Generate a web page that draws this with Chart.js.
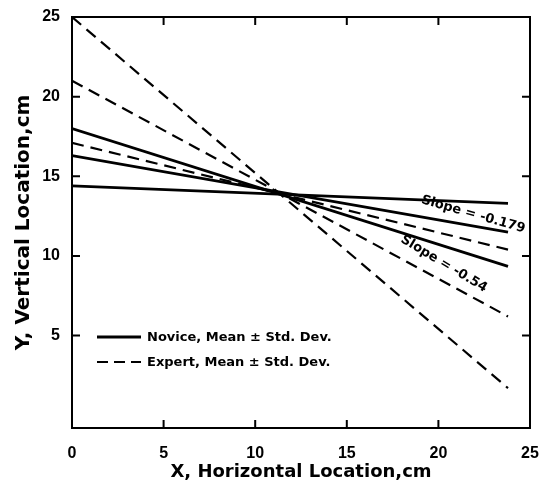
<!DOCTYPE html>
<html>
<head>
<meta charset="utf-8">
<script src="https://cdn.jsdelivr.net/npm/chart.js@4.4.1/dist/chart.umd.min.js"></script>
<style>
  html, body { margin: 0; padding: 0; background: #fff; }
  #wrap { width: 541px; height: 485px; }
</style>
</head>
<body>
<div id="wrap"><canvas id="chart" width="541" height="485"></canvas></div>
<script>
// line end points, x in cm
const xEnds = [0, 23.8];

// novice: mean +/- std dev
const noviceUpper = [18.0, 9.35];
const noviceMean = [16.3, 11.5];
const noviceLower = [14.4, 13.3];

// expert: mean +/- std dev
const expertUpper = [25.0, 1.7];
const expertMean = [21.0, 6.2];
const expertLower = [17.1, 10.4];

const xTicks = [0, 5, 10, 15, 20, 25];
const yTicks = [5, 10, 15, 20, 25];

// slope labels: [x, y, text, angle in degrees]
const slopeLabels = [
    [21.9, 12.6, 'Slope = -0.179', 16],
    [20.3, 9.5, 'Slope = -0.54', 31]
];

const legendItems = [
    ['Novice, Mean \u00b1 Std. Dev.', []],
    ['Expert, Mean \u00b1 Std. Dev.', [11, 6]]
];

const FONT = '"Liberation Sans", Arial, sans-serif';
const WIDE = '"DejaVu Sans", sans-serif';
const dash = [12, 7];

function toPoints(ys) {
    return ys.map((y, i) => ({ x: xEnds[i], y: y }));
}

function lineSet(label, ys, dashed) {
    return {
        label: label,
        data: toPoints(ys),
        borderColor: '#000',
        borderWidth: dashed ? 2.2 : 2.8,
        borderDash: dashed ? dash : [],
        pointRadius: 0,
        fill: false,
        tension: 0
    };
}

// frame with inward ticks, slope labels and legend
const framePlugin = {
    id: 'frame',
    afterDatasetsDraw(chart) {
        const ctx = chart.ctx;
        const a = chart.chartArea;
        const xs = chart.scales.x;
        const ys = chart.scales.y;
        const tl = 8;
        ctx.save();
        ctx.strokeStyle = '#000';
        ctx.lineWidth = 2;
        ctx.strokeRect(a.left, a.top, a.right - a.left, a.bottom - a.top);
        ctx.beginPath();
        xTicks.slice(1, -1).forEach(v => {
            const px = xs.getPixelForValue(v);
            ctx.moveTo(px, a.bottom); ctx.lineTo(px, a.bottom - tl);
            ctx.moveTo(px, a.top); ctx.lineTo(px, a.top + tl);
        });
        yTicks.slice(0, -1).forEach(v => {
            const py = ys.getPixelForValue(v);
            ctx.moveTo(a.left, py); ctx.lineTo(a.left + tl, py);
            ctx.moveTo(a.right, py); ctx.lineTo(a.right - tl, py);
        });
        ctx.stroke();

        // slope annotations
        ctx.fillStyle = '#000';
        ctx.font = 'bold 13px ' + WIDE;
        ctx.textAlign = 'center';
        ctx.textBaseline = 'middle';
        slopeLabels.forEach(s => {
            ctx.save();
            ctx.translate(xs.getPixelForValue(s[0]), ys.getPixelForValue(s[1]));
            ctx.rotate(s[3] * Math.PI / 180);
            ctx.fillText(s[2], 0, 0);
            ctx.restore();
        });

        // legend
        ctx.textAlign = 'left';
        legendItems.forEach((it, i) => {
            const y = a.top + 320 + i * 25;
            ctx.beginPath();
            ctx.setLineDash(it[1]);
            ctx.lineWidth = i === 0 ? 2.8 : 2.2;
            ctx.moveTo(a.left + 25, y);
            ctx.lineTo(a.left + 69, y);
            ctx.stroke();
            ctx.setLineDash([]);
            ctx.fillText(it[0], a.left + 75, y + 1);
        });
        ctx.restore();
    }
};

new Chart(document.getElementById('chart'), {
    type: 'line',
    data: {
        datasets: [
            lineSet('Novice upper', noviceUpper, false),
            lineSet('Novice mean', noviceMean, false),
            lineSet('Novice lower', noviceLower, false),
            lineSet('Expert upper', expertUpper, true),
            lineSet('Expert mean', expertMean, true),
            lineSet('Expert lower', expertLower, true)
        ]
    },
    options: {
        responsive: false,
        animation: false,
        layout: { padding: { left: 0, top: 17, right: 11, bottom: 0 } },
        plugins: {
            legend: { display: false },
            tooltip: { enabled: false }
        },
        scales: {
            x: {
                type: 'linear',
                min: 0,
                max: 25,
                grid: { display: false },
                border: { display: false },
                afterBuildTicks: s => { s.ticks = xTicks.map(v => ({ value: v })); },
                afterFit: s => { s.height = 57; s.paddingRight = 0; s.paddingLeft = 0; },
                ticks: {
                    color: '#000',
                    padding: 8,
                    maxRotation: 0,
                    font: { family: FONT, size: 16, weight: 'bold' }
                },
                title: {
                    display: true,
                    text: 'X, Horizontal Location,cm',
                    color: '#000',
                    padding: { top: 0, bottom: 2 },
                    font: { family: WIDE, size: 18, weight: 'bold' }
                }
            },
            y: {
                type: 'linear',
                min: -0.8,
                max: 25,
                grid: { display: false },
                border: { display: false },
                afterBuildTicks: s => { s.ticks = yTicks.map(v => ({ value: v })); },
                afterFit: s => { s.width = 72; },
                ticks: {
                    color: '#000',
                    padding: 4,
                    font: { family: FONT, size: 16, weight: 'bold' }
                },
                title: {
                    display: true,
                    text: 'Y, Vertical Location,cm',
                    color: '#000',
                    padding: { top: 12, bottom: 0 },
                    font: { family: WIDE, size: 20, weight: 'bold' }
                }
            }
        }
    },
    plugins: [framePlugin]
});
</script>
</body>
</html>
